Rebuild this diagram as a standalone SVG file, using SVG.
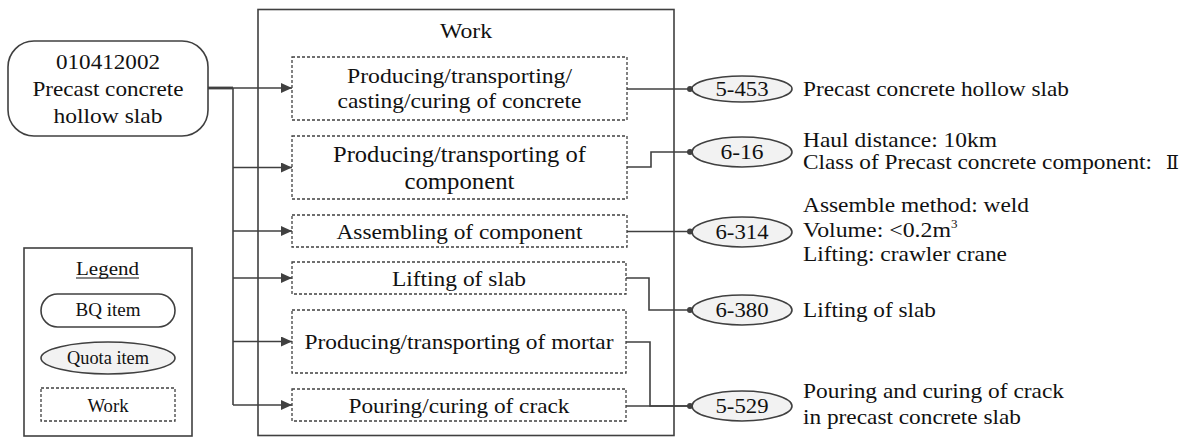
<svg xmlns="http://www.w3.org/2000/svg" width="1185" height="437" viewBox="0 0 1185 437" font-family="Liberation Serif, serif">
<defs>
<style>
text{font-family:"Liberation Serif","DejaVu Serif",serif;fill:#111;font-size:21px}
.c{text-anchor:middle}
.line{fill:none;stroke:#404040;stroke-width:1.6}
.box{fill:#fff;stroke:#404040;stroke-width:1.3;stroke-dasharray:3 2}
.solid{fill:#fff;stroke:#404040;stroke-width:1.6}
.quota{fill:#f2f2f2;stroke:#404040;stroke-width:1.6}
.dot{fill:#404040}
.lg{font-size:18px}
</style>
<marker id="arr" markerWidth="12" markerHeight="10" refX="11" refY="5" orient="auto" markerUnits="userSpaceOnUse">
<path d="M0,0 L11,5 L0,10 Z" fill="#404040"/>
</marker>
</defs>
<rect width="1185" height="437" fill="#fff"/>

<g id="work-container">
<rect class="solid" x="258" y="9.5" width="416" height="426"/>
<text class="c" x="466" y="38" textLength="52" lengthAdjust="spacingAndGlyphs">Work</text>
</g>

<g id="bq-item">
<rect class="solid" x="8" y="41" width="200" height="95" rx="26" ry="26"/>
<text class="c" x="108" y="69" textLength="104" lengthAdjust="spacingAndGlyphs">010412002</text>
<text class="c" x="108" y="96" textLength="151" lengthAdjust="spacingAndGlyphs">Precast concrete</text>
<text class="c" x="108" y="123" textLength="109" lengthAdjust="spacingAndGlyphs">hollow slab</text>
</g>

<g id="work1">
<rect class="box" x="292" y="57" width="335" height="63"/>
<text class="c" x="459.5" y="83" textLength="225" lengthAdjust="spacingAndGlyphs">Producing/transporting/</text>
<text class="c" x="459.5" y="108" textLength="244" lengthAdjust="spacingAndGlyphs">casting/curing of concrete</text>
</g>
<g id="work2">
<rect class="box" x="292" y="136" width="335" height="63"/>
<text class="c" x="459.5" y="162" style="font-size:22.5px" textLength="253" lengthAdjust="spacingAndGlyphs">Producing/transporting of</text>
<text class="c" x="459.5" y="189" style="font-size:22.5px" textLength="110" lengthAdjust="spacingAndGlyphs">component</text>
</g>
<g id="work3">
<rect class="box" x="292" y="215" width="335" height="32"/>
<text class="c" x="459.5" y="239" textLength="246" lengthAdjust="spacingAndGlyphs">Assembling of component</text>
</g>
<g id="work4">
<rect class="box" x="292" y="262" width="334" height="32"/>
<text class="c" x="459" y="286" textLength="134" lengthAdjust="spacingAndGlyphs">Lifting of slab</text>
</g>
<g id="work5">
<rect class="box" x="292" y="310" width="334" height="63"/>
<text class="c" x="459" y="349" textLength="309" lengthAdjust="spacingAndGlyphs">Producing/transporting of mortar</text>
</g>
<g id="work6">
<rect class="box" x="292" y="389" width="334" height="32"/>
<text class="c" x="459" y="413" textLength="221" lengthAdjust="spacingAndGlyphs">Pouring/curing of crack</text>
</g>

<g id="q5-453">
<ellipse class="quota" cx="742" cy="89" rx="50" ry="13"/>
<text class="c" x="742" y="96" textLength="53" lengthAdjust="spacingAndGlyphs">5-453</text>
<text x="803" y="96" textLength="266" lengthAdjust="spacingAndGlyphs">Precast concrete hollow slab</text>
</g>
<g id="q6-16">
<ellipse class="quota" cx="742" cy="152" rx="50" ry="15"/>
<text class="c" x="742" y="159" textLength="43" lengthAdjust="spacingAndGlyphs">6-16</text>
<text x="803" y="147" textLength="194" lengthAdjust="spacingAndGlyphs">Haul distance: 10km</text>
<text x="803" y="169" textLength="349" lengthAdjust="spacingAndGlyphs">Class of Precast concrete component:</text>
<text x="1166" y="169" style="font-family:'DejaVu Serif','Liberation Serif',serif;font-size:19px">Ⅱ</text>
</g>
<g id="q6-314">
<ellipse class="quota" cx="742" cy="232" rx="50" ry="15"/>
<text class="c" x="742" y="239" textLength="53" lengthAdjust="spacingAndGlyphs">6-314</text>
<text x="803" y="212" textLength="226" lengthAdjust="spacingAndGlyphs">Assemble method: weld</text>
<text x="803" y="237"><tspan textLength="148" lengthAdjust="spacingAndGlyphs">Volume: &lt;0.2m</tspan><tspan dy="-9" style="font-size:13px">3</tspan></text>
<text x="803" y="261" textLength="204" lengthAdjust="spacingAndGlyphs">Lifting: crawler crane</text>
</g>
<g id="q6-380">
<ellipse class="quota" cx="742" cy="310" rx="50" ry="15"/>
<text class="c" x="742" y="317" textLength="53" lengthAdjust="spacingAndGlyphs">6-380</text>
<text x="803" y="317" textLength="133" lengthAdjust="spacingAndGlyphs">Lifting of slab</text>
</g>
<g id="q5-529">
<ellipse class="quota" cx="742" cy="406" rx="50" ry="15"/>
<text class="c" x="742" y="413" textLength="53" lengthAdjust="spacingAndGlyphs">5-529</text>
<text x="803" y="398" textLength="261" lengthAdjust="spacingAndGlyphs">Pouring and curing of crack</text>
<text x="803" y="424" textLength="218" lengthAdjust="spacingAndGlyphs">in precast concrete slab</text>
</g>

<g id="legend">
<rect class="solid" x="24" y="248" width="168" height="188"/>
<text class="c lg" x="107.5" y="275" textLength="63" lengthAdjust="spacingAndGlyphs">Legend</text>
<line x1="76" y1="278" x2="139" y2="278" stroke="#111" stroke-width="1.2"/>
<rect class="solid" x="41" y="294" width="134" height="33" rx="16.5" ry="16.5"/>
<text class="c lg" x="108" y="316" textLength="65" lengthAdjust="spacingAndGlyphs">BQ item</text>
<ellipse class="quota" cx="108" cy="358" rx="67" ry="16"/>
<text class="c lg" x="108" y="364" textLength="82" lengthAdjust="spacingAndGlyphs">Quota item</text>
<rect class="box" x="41" y="388" width="134" height="33"/>
<text class="c lg" x="108" y="412" textLength="41" lengthAdjust="spacingAndGlyphs">Work</text>
</g>

<g id="connectors">
<path class="line" d="M208,88 H233" style="stroke-width:2.8"/>
<path class="line" d="M208,88 H292" marker-end="url(#arr)"/>
<path class="line" d="M233,88 V405"/>
<path class="line" d="M233,167.5 H292" marker-end="url(#arr)"/>
<path class="line" d="M233,231 H292" marker-end="url(#arr)"/>
<path class="line" d="M233,278 H292" marker-end="url(#arr)"/>
<path class="line" d="M233,341.5 H292" marker-end="url(#arr)"/>
<path class="line" d="M233,405 H292" marker-end="url(#arr)"/>
<path class="line" d="M627,89 H692"/>
<path class="line" d="M627,167 H651 V152 H692"/>
<path class="line" d="M627,231.5 H692"/>
<path class="line" d="M626,278 H649 V310 H692"/>
<path class="line" d="M626,342 H650 V406 H692"/>
<path class="line" d="M626,406 H692"/>
<circle class="dot" cx="690" cy="89" r="3"/>
<circle class="dot" cx="690" cy="152" r="3"/>
<circle class="dot" cx="690" cy="231.5" r="3"/>
<circle class="dot" cx="690" cy="310" r="3"/>
<circle class="dot" cx="690" cy="406" r="3"/>
</g>
</svg>
